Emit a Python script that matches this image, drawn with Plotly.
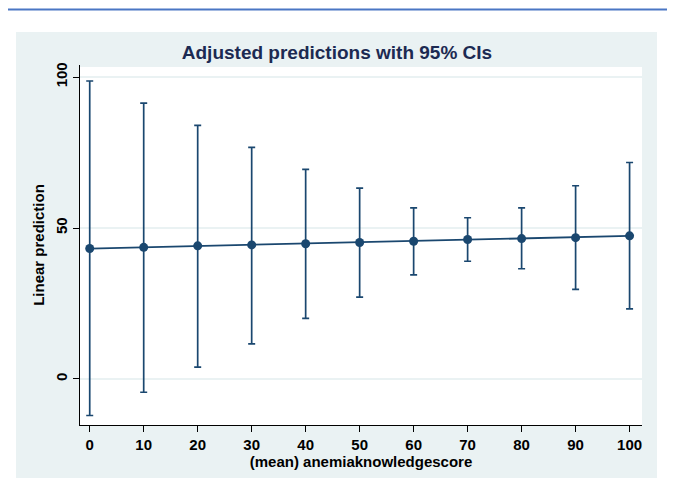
import plotly.graph_objects as go

# Data
x_vals = [0, 10, 20, 30, 40, 50, 60, 70, 80, 90, 100]
pred = [43.2, 43.6, 44.1, 44.4, 44.8, 45.2, 45.6, 46.2, 46.5, 46.8, 47.4]
ci_low = [-12.1, -4.4, 3.9, 11.6, 20.1, 27.1, 34.5, 39.0, 36.5, 29.7, 23.2]
ci_high = [98.7, 91.4, 84.0, 76.7, 69.4, 63.2, 56.7, 53.4, 56.7, 64.0, 71.7]
x_ticks = [0, 10, 20, 30, 40, 50, 60, 70, 80, 90, 100]
y_ticks = [0, 50, 100]

NAVY = "#1A476F"
BG = "#EAF2F3"
FONT = "Liberation Sans"

err_plus = [h - p for h, p in zip(ci_high, pred)]
err_minus = [p - l for p, l in zip(pred, ci_low)]

fig = go.Figure()
fig.add_trace(go.Scatter(
    x=x_vals, y=pred, mode="lines+markers",
    line=dict(color=NAVY, width=1.8),
    marker=dict(color=NAVY, size=9, symbol="circle"),
    error_y=dict(type="data", array=err_plus, arrayminus=err_minus,
                 color=NAVY, thickness=1.7, width=3.5, symmetric=False),
    showlegend=False,
))

# page body has an 8px margin; coordinates below are relative to the figure
FW, FH = 667, 473
OFF = 8
L, R, T, B = 80 - OFF, 642 - OFF, 65 - OFF, 425 - OFF
W, H = R - L, B - T
def px(xp):
    return (xp - OFF - L) / W
def py(yp):
    return (B - (yp - OFF)) / H

fig.update_layout(
    width=FW, height=FH,
    margin=dict(l=L, r=FW - R, t=T, b=FH - B, pad=0),
    paper_bgcolor="white",
    plot_bgcolor="white",
    font=dict(family=FONT, color="black"),
    title=dict(text="Adjusted predictions with 95% CIs",
               x=(337 - OFF) / FW, xref="container", xanchor="center",
               y=1 - (52 - OFF) / FH, yref="container", yanchor="middle",
               font=dict(family=FONT, size=19, color="#1C2A52", weight="bold")),
    shapes=[
        dict(type="rect", xref="paper", yref="paper", layer="below",
             x0=px(16), x1=px(657), y0=py(478), y1=py(32),
             fillcolor=BG, line=dict(width=0)),
        dict(type="rect", xref="paper", yref="paper", layer="below",
             x0=0, x1=1, y0=0, y1=py(67),
             fillcolor="white", line=dict(width=0)),
        dict(type="line", xref="paper", yref="paper",
             x0=px(0), x1=px(690), y0=py(9.5), y1=py(9.5),
             line=dict(color="#4A76C4", width=2)),
    ],
)

fig.update_xaxes(
    range=[-1.8, 102.3], tickmode="array", tickvals=x_ticks,
    ticktext=[str(t) for t in x_ticks],
    ticks="outside", ticklen=6, tickwidth=1.3, tickcolor="black",
    showline=True, linecolor="black", linewidth=1.4,
    showgrid=False, zeroline=False,
    tickfont=dict(family=FONT, size=15, color="black", weight="bold"),
    title=dict(text="(mean) anemiaknowledgescore", standoff=2,
               font=dict(family=FONT, size=15, color="black", weight="bold")),
)
fig.update_yaxes(
    range=[-15.25, 104], tickmode="array", tickvals=y_ticks,
    ticktext=[str(t) for t in y_ticks], tickangle=-90,
    ticks="outside", ticklen=6, tickwidth=1.3, tickcolor="black",
    showline=True, linecolor="black", linewidth=1.4,
    showgrid=True, gridcolor=BG, gridwidth=1.5, zeroline=False,
    tickfont=dict(family=FONT, size=15, color="black", weight="bold"),
    title=dict(text="Linear prediction", standoff=4,
               font=dict(family=FONT, size=15, color="black", weight="bold")),
)

fig.write_html("out.html")
